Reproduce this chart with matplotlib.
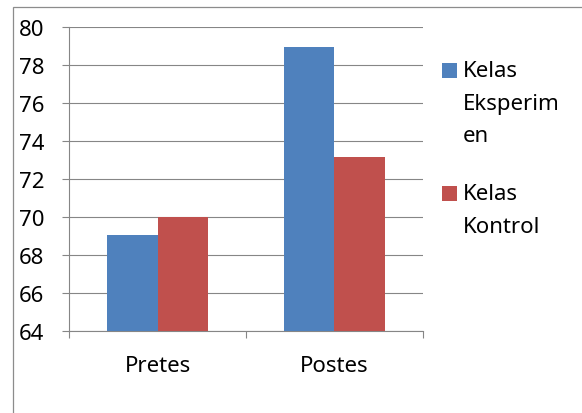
import matplotlib
matplotlib.use("Agg")
import matplotlib.pyplot as plt
from matplotlib.patches import Rectangle
import numpy as np

categories = ["Pretes", "Postes"]
series_names = ["Kelas\nEksperim\nen", "Kelas\nKontrol"]
eksperimen = [69.07, 78.97]
kontrol = [70.02, 73.17]
y_ticks = [64, 66, 68, 70, 72, 74, 76, 78, 80]

colors = ["#4F81BD", "#C0504D"]
gray = "#868686"
FONT = "Noto Sans"
FS = 16

W, H = 582, 414
fig = plt.figure(figsize=(W / 100, H / 100), dpi=100)
fig.patch.set_facecolor("white")

# outer chart border
fig.patches.append(Rectangle((13 / W, -0.1), 1.2, 1.1 - 8 / H, transform=fig.transFigure,
                             fill=False, edgecolor="#8c8c8c", lw=0.9))

ax = fig.add_axes([69.3 / W, 1 - 332 / H, (422.7 - 69.3) / W, (332 - 28) / H])
x = np.arange(len(categories))
w = 0.286
ax.bar(x - w / 2, eksperimen, width=w, color=colors[0], zorder=3)
ax.bar(x + w / 2, kontrol, width=w, color=colors[1], zorder=3)

ax.set_xlim(-0.5, len(categories) - 0.5)
ax.set_ylim(y_ticks[0], y_ticks[-1])
ax.set_yticks(y_ticks)
ax.set_yticklabels([str(t) for t in y_ticks], fontsize=FS, family=FONT)
ax.yaxis.grid(True, color=gray, lw=0.8, zorder=0)
ax.set_axisbelow(True)

ax.set_xticks(x)
ax.set_xticklabels(categories, fontsize=FS, family=FONT)
ax.set_xticks(np.arange(-0.5, len(categories), 1.0), minor=True)
ax.tick_params(axis="x", which="major", length=0, pad=17)
ax.tick_params(axis="x", which="minor", length=5, color=gray, width=0.8)
ax.tick_params(axis="y", length=5, color=gray, width=0.8, pad=13)

for s in ["top", "right"]:
    ax.spines[s].set_visible(False)
for s in ["left", "bottom"]:
    ax.spines[s].set_color(gray)
    ax.spines[s].set_linewidth(0.8)

# legend (Excel style, wrapped)
line_h = 32.5
entry_tops = [71.7, 195.0]
for name, col, ytop in zip(series_names, colors, entry_tops):
    fig.patches.append(Rectangle((442 / W, 1 - (ytop + 7) / H), 14.5 / W, 14.5 / H,
                                 transform=fig.transFigure, facecolor=col, edgecolor="none"))
    for i, line in enumerate(name.split("\n")):
        fig.text(463 / W, 1 - (ytop + i * line_h) / H, line, fontsize=FS, family=FONT,
                 va="center", ha="left")

fig.savefig("out.png", dpi=100)
